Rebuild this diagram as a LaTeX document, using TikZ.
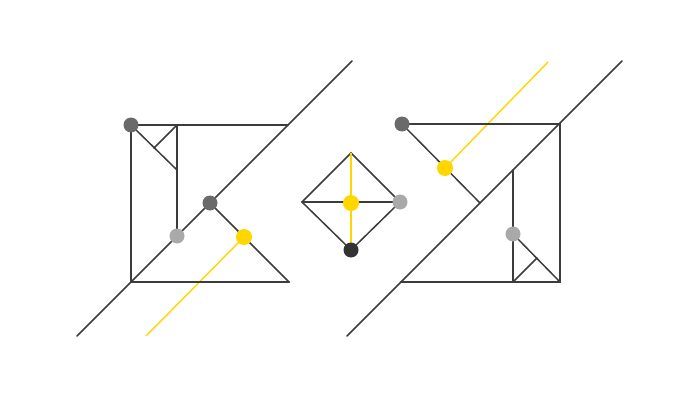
\documentclass[tikz,border=0pt]{standalone}
\usetikzlibrary{calc}
\definecolor{ink}{HTML}{3C3C3C}
\definecolor{dotdark}{HTML}{6A6A6A}
\definecolor{dotlight}{HTML}{A9A9A9}
\definecolor{dotblack}{HTML}{333333}
\definecolor{gold}{HTML}{FFD600}
\tikzset{
  thin line/.style={draw=ink, line width=1.5pt, line cap=round},
  edge line/.style={draw=ink, line width=2.3pt, line cap=round, line join=miter},
  gold line/.style={draw=gold, line width=1.4pt},
  dot/.style={circle, inner sep=0pt, minimum size=15pt, draw=none},
  darkdot/.style={dot, fill=dotdark},
  lightdot/.style={dot, fill=dotlight},
  blackdot/.style={dot, fill=dotblack},
  golddot/.style={dot, fill=gold, minimum size=16pt},
}
\begin{document}
\begin{tikzpicture}[x=1pt, y=-1pt]
\useasboundingbox (0,0) rectangle (700,401);
% ---------- left figure coordinates ----------
\coordinate (Ld1) at (77,336);
\coordinate (Ld2) at (352,61);
\coordinate (LA) at (131,125);
\coordinate (LB) at (288,125);
\coordinate (LC) at (131,282);
\coordinate (LD) at (289,282);
\coordinate (LVt) at (177,125);
\coordinate (LE) at (177,170);
\coordinate (LF) at (154,148);
\coordinate (LG) at (177,236);
\coordinate (LH) at (210,203);
\coordinate (LY) at (244,237);
\coordinate (Ly2) at (146,336);
% ---------- centre ----------
\coordinate (Ct) at (351,153);
\coordinate (Cl) at (302,202);
\coordinate (Cr) at (400,202);
\coordinate (Cb) at (351,250);
\coordinate (Cc) at (351,203);
% ---------- right figure coordinates ----------
\coordinate (Rd1) at (347,336);
\coordinate (Rd2) at (622,61);
\coordinate (RA) at (402,124);
\coordinate (RB) at (560,124);
\coordinate (RC) at (560,282);
\coordinate (RD) at (401,282);
\coordinate (RE) at (480,203);
\coordinate (RY) at (445,168);
\coordinate (Ry2) at (548,62);
\coordinate (RVt) at (513,170);
\coordinate (RVb) at (513,282);
\coordinate (RG) at (513,234);
\coordinate (RF) at (537,258);

% ---------- left lines ----------
\draw[gold line] (LY) -- (Ly2);
\draw[thin line] (Ld1) -- (Ld2);
\draw[thin line] (LA) -- (LB);
\draw[edge line] (LA) -- (LC) -- (LD);
\draw[thin line] (LD) -- (LH);
\draw[thin line] (LVt) -- (LG);
\draw[thin line] (LA) -- (LE);
\draw[thin line] (LF) -- (LVt);
% ---------- centre lines ----------
\draw[thin line, line join=miter] (Ct) -- (Cr) -- (Cb) -- (Cl) -- cycle;
\draw[thin line] (Cl) -- (Cr);
\draw[gold line] (Ct) -- (Cb);
% ---------- right lines ----------
\draw[gold line] (RY) -- (Ry2);
\draw[thin line] (Rd1) -- (Rd2);
\draw[edge line] (RA) -- (RB) -- (RC) -- (RD);
\draw[thin line] (RA) -- (RE);
\draw[thin line] (RVt) -- (RVb);
\draw[thin line] (RG) -- (RC);
\draw[thin line] (RVb) -- (RF);

% ---------- dots ----------
\node[darkdot] (nLA) at (LA) {};
\node[lightdot] (nLG) at (LG) {};
\node[darkdot] (nLH) at (LH) {};
\node[golddot] (nLY) at (LY) {};
\node[golddot] (nCc) at (Cc) {};
\node[lightdot] (nCr) at (Cr) {};
\node[blackdot] (nCb) at (Cb) {};
\node[darkdot] (nRA) at (RA) {};
\node[golddot] (nRY) at (RY) {};
\node[lightdot] (nRG) at (RG) {};
\end{tikzpicture}
\end{document}
